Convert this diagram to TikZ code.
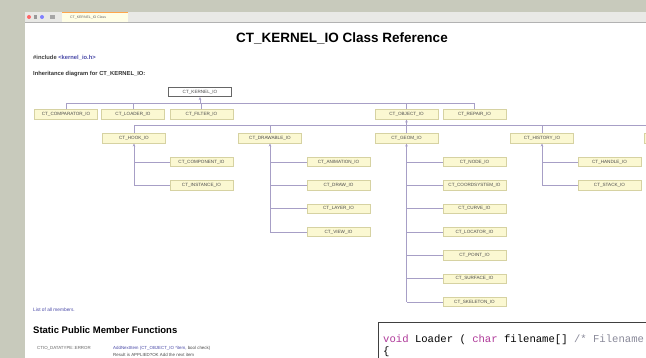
\documentclass[tikz,border=0pt]{standalone}
\usepackage{fontspec}
\setmainfont{Liberation Sans}
\newfontfamily\codefont{Liberation Mono}
\usetikzlibrary{arrows.meta}
\definecolor{bgout}{HTML}{C8CABC}
\definecolor{tabbar}{HTML}{E9E9E6}
\definecolor{nodefill}{HTML}{FBF8D2}
\definecolor{nodeedge}{HTML}{D6D2A2}
\definecolor{connc}{HTML}{A79FC6}
\definecolor{linkc}{HTML}{4A4AA8}
\definecolor{kwc}{HTML}{B03A9A}
\definecolor{cmtc}{HTML}{8A8A9A}
\tikzset{
  cls/.style={draw=nodeedge, fill=nodefill, line width=0.5pt, minimum width=63pt, minimum height=9.5pt, inner sep=0pt, text=black!70, font=\fontsize{4.6}{5}\selectfont},
  rootcls/.style={cls, fill=white, draw=black!60, line width=0.7pt},
  conn/.style={draw=connc, line width=0.8pt},
  arr/.style={conn, -{Stealth[length=3pt,width=2.6pt]}},
  small/.style={font=\fontsize{5}{6}\selectfont, anchor=west, inner sep=0pt}
}
\begin{document}
\begin{tikzpicture}[x=1pt,y=-1pt]
\useasboundingbox (0,0) rectangle (646,358);
% surroundings
\fill[bgout] (0,0) rectangle (646,358);
\fill[white] (25,12) rectangle (646,358);
\fill[tabbar] (25,12) rectangle (646,22);
\draw[black!30, line width=0.4pt] (25,22) -- (646,22);
% toolbar icons and tab
\fill[red!60] (29,17) circle (2pt);
\fill[black!40] (34,15) rectangle (37,19);
\fill[blue!50] (42,17) circle (2pt);
\fill[black!35] (50,15) rectangle (55,19);
\fill[white!90!yellow] (62,13) rectangle (128,22);
\fill[orange!70] (62,12) rectangle (128,13.3);
\node[small, font=\fontsize{3.5}{4}\selectfont, text=black!60] (tabtxt) at (70,17.5) {CT\_KERNEL\_IO Class};
% title and header
\node[font=\bfseries\fontsize{13.5}{15}\selectfont, inner sep=0pt] (title) at (342,38) {CT\_KERNEL\_IO Class Reference};
\node[small, font=\bfseries\fontsize{5.8}{7}\selectfont, text=black!75] (incl) at (33,58) {\#include \textcolor{linkc}{<kernel\_io.h>}};
\node[small, font=\bfseries\fontsize{5.8}{7}\selectfont, text=black!80] (inhd) at (33,74) {Inheritance diagram for CT\_KERNEL\_IO:};
% root
\node[rootcls] (kernel) at (200,92) {CT\_KERNEL\_IO};
% row 1
\node[cls] (comp) at (66,114.5) {CT\_COMPARATOR\_IO};
\node[cls] (load) at (133,114.5) {CT\_LOADER\_IO};
\node[cls] (filt) at (201.5,114.5) {CT\_FILTER\_IO};
\node[cls] (obj) at (406.5,114.5) {CT\_OBJECT\_IO};
\node[cls] (rep) at (474.5,114.5) {CT\_REPAIR\_IO};
\coordinate (r1) at (200,103);
\draw[arr] (r1) -- (kernel.south);
\foreach \n in {comp,load,filt,obj,rep} \draw[conn] (\n.north) |- (r1);
% row 2
\node[cls] (hook) at (134,138.5) {CT\_HOOK\_IO};
\node[cls] (drw) at (270,138.5) {CT\_DRAWABLE\_IO};
\node[cls] (geom) at (406.5,138.5) {CT\_GEOM\_IO};
\node[cls] (hist) at (542,138.5) {CT\_HISTORY\_IO};
\node[cls] (more) at (676,138.5) {};
\coordinate (r2) at (406.5,125.5);
\draw[arr] (r2) -- (obj.south);
\foreach \n in {hook,drw,geom,hist,more} \draw[conn] (\n.north) |- (r2);
% children of hook
\node[cls] (h1) at (201.5,162) {CT\_COMPONENT\_IO};
\node[cls] (h2) at (201.5,185.3) {CT\_INSTANCE\_IO};
\draw[arr] (hook.south |- h2.west) -- (hook.south);
\foreach \n in {h1,h2} \draw[conn] (\n.west) -- (hook.south |- \n.west);
% children of drawable
\node[cls] (d1) at (338.5,162) {CT\_ANIMATION\_IO};
\node[cls] (d2) at (338.5,185.3) {CT\_DRAW\_IO};
\node[cls] (d3) at (338.5,208.6) {CT\_LAYER\_IO};
\node[cls] (d4) at (338.5,232) {CT\_VIEW\_IO};
\draw[arr] (drw.south |- d4.west) -- (drw.south);
\foreach \n in {d1,d2,d3,d4} \draw[conn] (\n.west) -- (drw.south |- \n.west);
% children of geom
\node[cls] (g1) at (474.5,162) {CT\_NODE\_IO};
\node[cls] (g2) at (474.5,185.3) {CT\_COORDSYSTEM\_IO};
\node[cls] (g3) at (474.5,208.6) {CT\_CURVE\_IO};
\node[cls] (g4) at (474.5,232) {CT\_LOCATOR\_IO};
\node[cls] (g5) at (474.5,255.3) {CT\_POINT\_IO};
\node[cls] (g6) at (474.5,278.6) {CT\_SURFACE\_IO};
\node[cls] (g7) at (474.5,302) {CT\_SKELETON\_IO};
\draw[arr] (geom.south |- g7.west) -- (geom.south);
\foreach \n in {g1,g2,g3,g4,g5,g6,g7} \draw[conn] (\n.west) -- (geom.south |- \n.west);
% children of history
\node[cls] (s1) at (609.5,162) {CT\_HANDLE\_IO};
\node[cls] (s2) at (609.5,185.3) {CT\_STACK\_IO};
\draw[arr] (hist.south |- s2.west) -- (hist.south);
\foreach \n in {s1,s2} \draw[conn] (\n.west) -- (hist.south |- \n.west);
% lower part
\node[small, font=\fontsize{4.8}{5}\selectfont, text=linkc] (list) at (33,310) {List of all members.};
\node[small, font=\bfseries\fontsize{9.5}{11}\selectfont] (spmf) at (33,330) {Static Public Member Functions};
\node[small, font=\fontsize{4.4}{5}\selectfont, text=black!60] (m1a) at (37,348) {CTIO\_DATATYPE::ERROR};
\node[small, font=\fontsize{4.4}{5}\selectfont, text=linkc] (m1b) at (113,348) {AddNextItem (CT\_OBJECT\_IO *item, \textcolor{black!70}{bool check)}};
\node[small, font=\fontsize{4.4}{5}\selectfont, text=black!70] (m1c) at (113,355) {Result is APPLIED?OK  Add the next item};
% code box
\draw[fill=white, draw=black!75, line width=0.7pt] (378,322) rectangle (660,370);
\node[small, font=\codefont\fontsize{10.6}{12}\selectfont] (code1) at (383,340) {\textcolor{kwc}{void} Loader ( \textcolor{kwc}{char} filename[] \textcolor{cmtc}{/* Filename}};
\node[small, font=\codefont\fontsize{10.6}{12}\selectfont] (code2) at (383,352) {\{};
\end{tikzpicture}
\end{document}
